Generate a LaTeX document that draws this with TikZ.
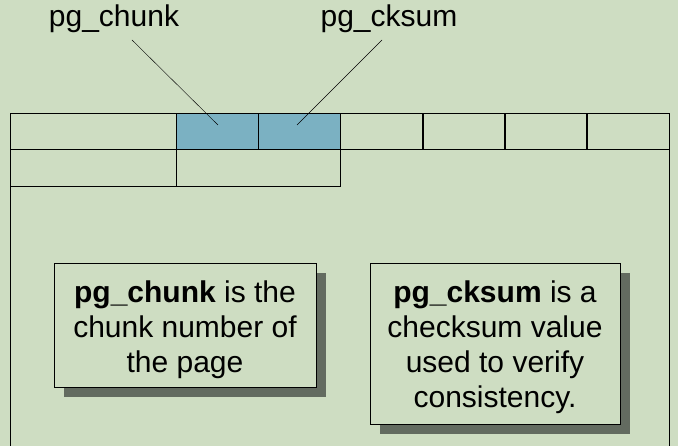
\documentclass[tikz,border=0pt]{standalone}
\usepackage{fontspec}
\setmainfont{Liberation Sans}
\usetikzlibrary{shadows}
\definecolor{pagebg}{HTML}{CEDDC2}
\definecolor{cellblue}{HTML}{7BB1C2}
\definecolor{shadowgray}{HTML}{636B60}
\tikzset{
    cell/.style={draw, thin, minimum height=36pt, inner sep=0pt, anchor=north west},
    tag/.style={font=\fontsize{30}{35}\selectfont, inner sep=0pt, anchor=base},
    note/.style={draw, fill=pagebg, inner sep=0pt,
        drop shadow={shadow xshift=10pt, shadow yshift=-10pt, fill=shadowgray, opacity=1}},
    notetext/.style={align=center, inner sep=0pt, font=\fontsize{30}{35}\selectfont}
}
\begin{document}
\begin{tikzpicture}[x=1pt,y=1pt]
    % --- background ---
    \fill[pagebg] (0,0) rectangle (678,446);
    \useasboundingbox (0,0) rectangle (678,446);

    % --- page outline ---
    \draw (10,0) -- (10,333);
    \draw (669,0) -- (669,333);

    % --- first row of the header ---
    \node[cell, minimum width=166pt] (lower) at (10,333) {};
    \node[cell, minimum width=82pt, fill=cellblue] (chunk) at (176,333) {};
    \node[cell, minimum width=82pt, fill=cellblue] (cksum) at (258,333) {};
    \foreach \i/\x in {1/340,2/422,3/504,4/586}
        \node[cell, minimum width=83pt] (free\i) at (\x,333) {};

    % --- second row ---
    \node[cell, minimum width=166pt, minimum height=37pt] (upper) at (10,297) {};
    \node[cell, minimum width=164pt, minimum height=37pt] (special) at (176,297) {};

    % --- labels and pointers ---
    \node[tag] (chunklbl) at (114,419) {pg\_chunk};
    \node[tag] (cksumlbl) at (389,419) {pg\_cksum};
    \coordinate (chunkfrom) at (132,406);
    \coordinate (chunkto) at (218,321);
    \coordinate (cksumfrom) at (382,406);
    \coordinate (cksumto) at (297,321);
    \draw (chunkfrom) -- (chunkto);
    \draw (cksumfrom) -- (cksumto);

    % --- notes ---
    \node[note, minimum width=262pt, minimum height=124pt] (chunknote) at (185,121) {};
    \node[notetext] (chunktext) at ([yshift=-5pt]chunknote.center)
        {\textbf{pg\_chunk} is the\\chunk number of\\the page};
    \node[note, minimum width=250pt, minimum height=161pt] (cksumnote) at (495,102.5) {};
    \node[notetext] (cksumtext) at ([yshift=-4pt]cksumnote.center)
        {\textbf{pg\_cksum} is a\\checksum value\\used to verify\\consistency.};
\end{tikzpicture}
\end{document}
